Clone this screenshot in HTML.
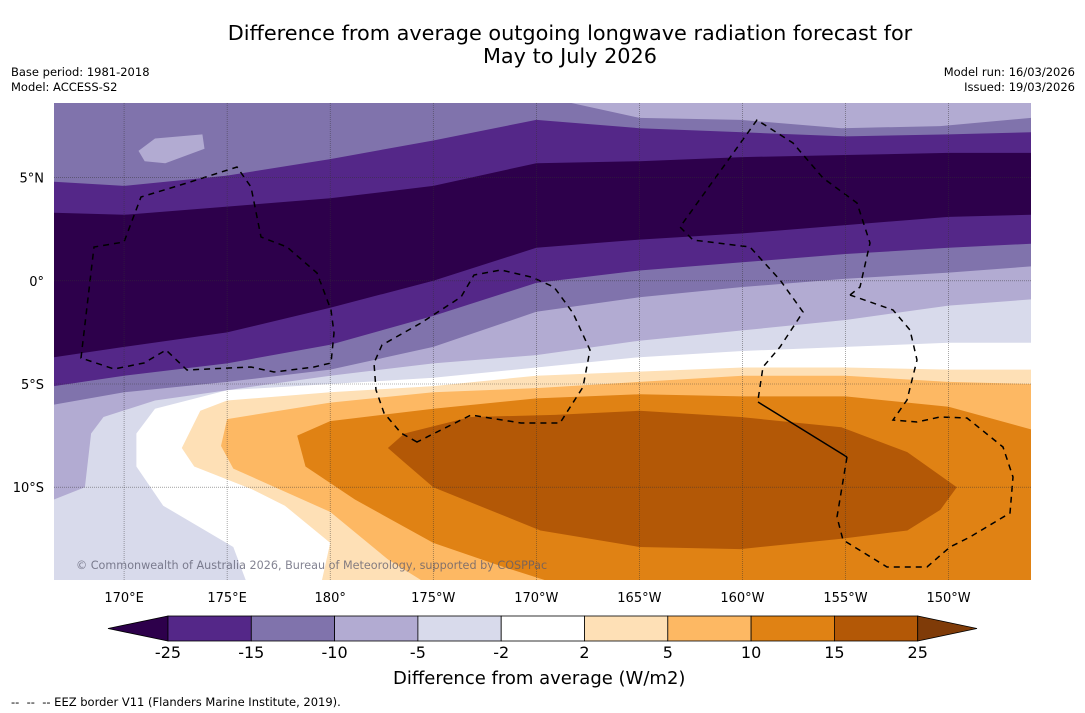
<!DOCTYPE html>
<html><head><meta charset="utf-8">
<style>
html,body{margin:0;padding:0;background:#fff;}
body{width:1085px;height:713px;overflow:hidden;position:relative;font-family:"DejaVu Sans","Liberation Sans",sans-serif;}
.t{position:absolute;color:#000;white-space:nowrap;}
</style></head>
<body>
<div class="t" style="left:0;width:1140px;top:22px;text-align:center;font-size:20.8px;line-height:23px;">Difference from average outgoing longwave radiation forecast for<br>May to July 2026</div>
<div class="t" style="left:11px;top:65px;font-size:11.5px;line-height:15px;">Base period: 1981-2018<br>Model: ACCESS-S2</div>
<div class="t" style="right:10px;top:65px;font-size:11.5px;line-height:15px;text-align:right;">Model run: 16/03/2026<br>Issued: 19/03/2026</div>
<svg id="chart" width="1085" height="713" style="position:absolute;left:0;top:0" xmlns="http://www.w3.org/2000/svg">
<defs><clipPath id="mapclip"><rect x="54" y="103" width="977" height="477"/></clipPath></defs>
<g id="map" clip-path="url(#mapclip)"></g>
<g id="eez" clip-path="url(#mapclip)" fill="none" stroke="#000" stroke-width="1.5" stroke-dasharray="6,5"></g>
<g id="grid"></g>
<g id="axes"></g>
<g id="cbar"></g>
</svg>
<div class="t" style="left:76px;top:559px;font-size:11.2px;color:rgba(90,90,110,0.75);">© Commonwealth of Australia 2026, Bureau of Meteorology, supported by COSPPac</div>
<div class="t" style="left:393px;top:668px;font-size:18px;">Difference from average (W/m2)</div>
<div class="t" style="left:11px;top:695px;font-size:11.5px;">-- &nbsp;-- &nbsp;-- EEZ border V11 (Flanders Marine Institute, 2019).</div>
<script>
// map extent
const lonRange=[166.6,214.0];
const latRange=[-14.5,8.62];
// longitude grid for zonal contour lines
const gridLons=[166.6,170,175,180,185,190,195,200,205,210,214];
// contour latitudes along gridLons (boundary below each band)
const b1Lats=[4.8,4.6,5.1,5.9,6.8,7.8,7.4,7.2,7.0,7.1,7.2];
const b2Lats=[3.3,3.2,3.6,4.0,4.6,5.7,5.8,6.0,6.1,6.2,6.2];
const b3Lats=[-3.7,-3.2,-2.5,-1.3,0.0,1.6,2.0,2.3,2.7,3.1,3.2];
const b4Lats=[-5.1,-4.6,-4.0,-3.1,-1.7,-0.1,0.5,0.9,1.3,1.6,1.8];
const b5Lats=[-6.0,-5.4,-4.9,-4.3,-3.2,-1.5,-0.8,-0.3,0.1,0.4,0.7];
// other contours as [lon,lat]
const b6Line=[[166.6,-10.6],[168.1,-10.0],[168.4,-7.4],[169.0,-6.6],[171.5,-5.8],[175,-5.3],[180,-4.6],[185,-4.0],[190,-3.6],[195,-2.9],[200,-2.4],[205,-1.9],[210,-1.2],[214,-0.9]];
const b0Line=[[191.7,8.62],[195,7.9],[199.9,7.8],[204.8,7.4],[209.6,7.5],[214,7.9]];
const whiteEdge=[[214,-3.0],[210,-3.0],[205,-3.2],[200,-3.4],[195,-3.7],[190,-4.2],[185,-4.7],[180,-5.0],[175,-5.3],[171.5,-6.2],[170.6,-7.4],[170.6,-9.0],[171.9,-10.9],[175.3,-12.9],[175.9,-14.5]];
const pos2Edge=[[214,-4.3],[210,-4.3],[205,-4.2],[200,-4.2],[195,-4.4],[190,-4.6],[185,-5.1],[180,-5.4],[175,-5.8],[173.7,-6.3],[172.8,-8.1],[173.4,-9.0],[176.2,-10.1],[177.8,-10.9],[180,-12.7],[179.6,-14.5]];
const pos5Edge=[[214,-5.0],[210,-4.9],[205,-4.6],[200,-4.6],[195,-4.9],[190,-5.2],[185,-5.4],[180,-5.9],[175,-6.7],[174.7,-8.0],[175.3,-9.1],[180,-11.2],[182.8,-13.5],[184.4,-14.5]];
const pos10Edge=[[214,-7.2],[210,-6.1],[205,-5.6],[200,-5.6],[195,-5.5],[190,-5.7],[185,-6.2],[180,-6.8],[178.4,-7.5],[178.8,-9.0],[181.2,-10.6],[185,-12.7],[188.5,-13.9],[190.4,-14.5]];
const pos15Blob=[[182.8,-8.1],[183.6,-7.4],[186.8,-6.6],[190.9,-6.5],[195,-6.3],[199.9,-6.6],[204.8,-7.1],[208,-8.3],[210.4,-10.0],[209.6,-11.1],[208,-12.1],[204.8,-12.5],[199.9,-13.0],[195,-12.9],[190.2,-12.1],[185,-10.0],[183.6,-8.8]];
const neg10Blob=[[170.7,6.3],[171.5,6.9],[173.8,7.1],[173.9,6.4],[172,5.7],[171,5.8]];
// colour scale
const levels=["-25","-15","-10","-5","-2","2","5","10","15","25"];
const colors=["#2d004b","#542788","#8073ac","#b2abd2","#d8daeb","#ffffff","#fee0b6","#fdb863","#e08214","#b35806","#7f3b08"];
const lonTicks=[170,175,180,185,190,195,200,205,210];
const lonTickLabels=["170°E","175°E","180°","175°W","170°W","165°W","160°W","155°W","150°W"];
const latTicks=[5,0,-5,-10];
const latTickLabels=["5°N","0°","5°S","10°S"];

const NS="http://www.w3.org/2000/svg";
const X0=54,X1=1031,Y0=103,Y1=580;
function xOf(lon){return X0+(lon-lonRange[0])/(lonRange[1]-lonRange[0])*(X1-X0);}
function yOf(lat){return Y0+(latRange[1]-lat)/(latRange[1]-latRange[0])*(Y1-Y0);}
function pts(list){return list.map(p=>xOf(p[0]).toFixed(1)+","+yOf(p[1]).toFixed(1)).join(" ");}
function zip(lats){return gridLons.map((l,i)=>[l,lats[i]]);}
const map=document.getElementById('map');
function poly(list,fill,name){
  const p=document.createElementNS(NS,'polygon');
  p.setAttribute('points',pts(list));p.setAttribute('fill',fill);
  
  
  map.appendChild(p);
}
const L=lonRange[0],R=lonRange[1],T=latRange[1],B=latRange[0];
function aboveFwd(line){return [[line[0][0],T]].concat(line).concat([[line[line.length-1][0],T]]);}
poly([[L,T],[R,T],[R,B],[L,B]],colors[4],'band-minus5-to-minus2');
poly(aboveFwd(b6Line),colors[3],'band-minus10-to-minus5');
poly(aboveFwd(zip(b5Lats)),colors[2],'band-minus15-to-minus10-south');
poly(aboveFwd(zip(b4Lats)),colors[1],'band-minus25-to-minus15-south');
poly(aboveFwd(zip(b3Lats)),colors[0],'band-below-minus25');
poly(aboveFwd(zip(b2Lats)),colors[1],'band-minus25-to-minus15-north');
poly(aboveFwd(zip(b1Lats)),colors[2],'band-minus15-to-minus10-north');
poly(aboveFwd(b0Line),colors[3],'band-minus10-to-minus5-north');
poly(neg10Blob,colors[3],'band-minus10-blob');
function below(edge){return edge.concat([[R,B]]);}
poly(below(whiteEdge),colors[5],'band-minus2-to-2');
poly(below(pos2Edge),colors[6],'band-2-to-5');
poly(below(pos5Edge),colors[7],'band-5-to-10');
poly(below(pos10Edge),colors[8],'band-10-to-15');
poly(pos15Blob,colors[9],'band-15-to-25');

// EEZ borders (geographic outlines, pixel approximations)
const eez=document.getElementById('eez');
const eezPaths=[
"M81,358 L94,247 L124,242 L141,197 L187,183 L237,167 L251,187 L261,237 L287,247 L317,273 L331,310 L334,333 L331,363 L314,367 L274,372 L251,367 L187,370 L166,350 L144,363 L114,369 Z",
"M417,442 L401,433 L384,413 L376,390 L374,363 L382,345 L421,323 L461,297 L474,275 L501,270 L531,277 L554,287 L573,313 L590,350 L583,387 L560,423 L521,423 L471,415 Z",
"M850,295 L860,287 L870,243 L857,203 L823,178 L793,143 L757,120 L680,227 L693,240 L750,247 L780,280 L803,312 L780,347 L763,367 L758,400",
"M847,457 L837,517 L843,540 L887,567 L927,567 L950,547 L970,537 L1010,513 L1013,477 L1003,447 L967,418 L940,417 L917,422 L893,420 L907,400 L917,360 L910,330 L893,310 L850,295"];
eezPaths.forEach((d,i)=>{const p=document.createElementNS(NS,'path');p.setAttribute('d',d);


eez.appendChild(p);});
const solid=document.createElementNS(NS,'path');solid.setAttribute('d','M758,402 L847,457');
solid.setAttribute('stroke-dasharray','none');


eez.appendChild(solid);

// grid + ticks
const grid=document.getElementById('grid'),axes=document.getElementById('axes');
function txt(g,x,y,s,size,anchor,name){const t=document.createElementNS(NS,'text');t.setAttribute('x',x);t.setAttribute('y',y);
t.setAttribute('font-size',size);t.setAttribute('text-anchor',anchor);t.setAttribute('font-family','DejaVu Sans, Liberation Sans, sans-serif');t.textContent=s;


g.appendChild(t);return t;}
lonTicks.forEach((lon,i)=>{const x=xOf(lon);const l=document.createElementNS(NS,'line');
l.setAttribute('x1',x);l.setAttribute('x2',x);l.setAttribute('y1',Y0);l.setAttribute('y2',Y1);
l.setAttribute('stroke','#333');l.setAttribute('stroke-width','0.6');l.setAttribute('stroke-dasharray','1,1');l.setAttribute('opacity','0.7');


grid.appendChild(l);
txt(axes,x,602,lonTickLabels[i],13,'middle','longitude-tick-label');});
latTicks.forEach((lat,i)=>{const y=yOf(lat);const l=document.createElementNS(NS,'line');
l.setAttribute('x1',X0);l.setAttribute('x2',X1);l.setAttribute('y1',y);l.setAttribute('y2',y);
l.setAttribute('stroke','#333');l.setAttribute('stroke-width','0.6');l.setAttribute('stroke-dasharray','1,1');l.setAttribute('opacity','0.7');


grid.appendChild(l);
txt(axes,44,y+5,latTickLabels[i],13,'end','latitude-tick-label');});

// colorbar
const cb=document.getElementById('cbar');
const cbL=168,cbW=83.3,cbT=616,cbB=641,cbM=628.5;
function cbEl(tag,attrs,name){const e=document.createElementNS(NS,tag);for(const k in attrs)e.setAttribute(k,attrs[k]);


cb.appendChild(e);return e;}
cbEl('polygon',{points:`${cbL},${cbT} ${cbL},${cbB} 108,${cbM}`,fill:colors[0],stroke:'#000','stroke-width':0.8},'colorbar-extend-low');
for(let i=0;i<levels.length-1;i++){
  cbEl('rect',{x:cbL+i*cbW,y:cbT,width:cbW,height:cbB-cbT,fill:colors[i+1],stroke:'#000','stroke-width':0.8},'colorbar-swatch');
}
const cbR=cbL+(levels.length-1)*cbW;
cbEl('polygon',{points:`${cbR},${cbT} ${cbR},${cbB} 977,${cbM}`,fill:colors[10],stroke:'#000','stroke-width':0.8},'colorbar-extend-high');
levels.forEach((s,i)=>txt(cb,cbL+i*cbW,658,s,16,'middle','colorbar-tick-label'));
</script>
</body></html>
